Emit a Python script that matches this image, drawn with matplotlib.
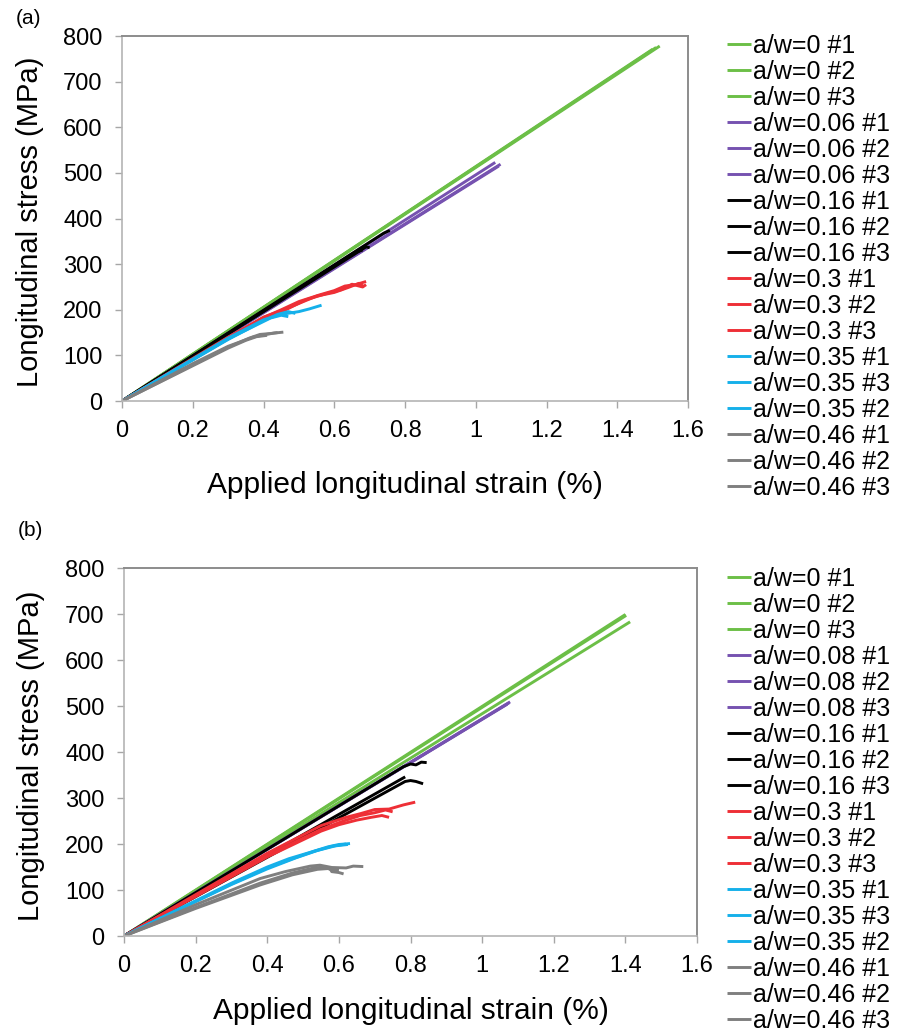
import matplotlib.pyplot as plt

plt.rcParams['font.family'] = ['Liberation Sans', 'DejaVu Sans']

# legend entries, in the order of the original legends
LABELS_A = ["a/w=0 #1", "a/w=0 #2", "a/w=0 #3",
            "a/w=0.06 #1", "a/w=0.06 #2", "a/w=0.06 #3",
            "a/w=0.16 #1", "a/w=0.16 #2", "a/w=0.16 #3",
            "a/w=0.3 #1", "a/w=0.3 #2", "a/w=0.3 #3",
            "a/w=0.35 #1", "a/w=0.35 #3", "a/w=0.35 #2",
            "a/w=0.46 #1", "a/w=0.46 #2", "a/w=0.46 #3"]
LABELS_B = ["a/w=0 #1", "a/w=0 #2", "a/w=0 #3",
            "a/w=0.08 #1", "a/w=0.08 #2", "a/w=0.08 #3",
            "a/w=0.16 #1", "a/w=0.16 #2", "a/w=0.16 #3",
            "a/w=0.3 #1", "a/w=0.3 #2", "a/w=0.3 #3",
            "a/w=0.35 #1", "a/w=0.35 #3", "a/w=0.35 #2",
            "a/w=0.46 #1", "a/w=0.46 #2", "a/w=0.46 #3"]
GROUP_COLORS = ['#6cbf47', '#7652b0', '#000000', '#ee2f36', '#15b0ea', '#7f7f7f']

XTICKS = [0, 0.2, 0.4, 0.6, 0.8, 1.0, 1.2, 1.4, 1.6]
XTICK_LABELS = ["0", "0.2", "0.4", "0.6", "0.8", "1", "1.2", "1.4", "1.6"]
YTICKS = [0, 100, 200, 300, 400, 500, 600, 700, 800]

# ---- panel (a): strain (%) / stress (MPa) ----
A_AW0_X = [[0, 1.50], [0, 1.51], [0, 1.52]]
A_AW0_Y = [[0, 771], [0, 775], [0, 778]]
A_AW006_X = [[0, 1.07], [0, 1.055], [0, 1.065]]
A_AW006_Y = [[0, 519], [0, 523], [0, 515]]
A_AW016_X = [[0, 0.74, 0.757], [0, 0.66, 0.68], [0, 0.69, 0.70]]
A_AW016_Y = [[0, 368, 374], [0, 326, 331], [0, 338, 336]]
A_AW03_X = [[0, 0.3, 0.4, 0.45, 0.5, 0.56, 0.6, 0.63, 0.66, 0.69],
            [0, 0.4, 0.46, 0.52, 0.58, 0.62, 0.65, 0.68, 0.69],
            [0, 0.4, 0.45, 0.5, 0.55, 0.6, 0.64, 0.67, 0.685]]
A_AW03_Y = [[0, 140, 183, 200, 218, 233, 242, 252, 255, 262],
            [0, 182, 199, 222, 236, 244, 256, 250, 255],
            [0, 184, 198, 214, 230, 238, 249, 258, 250]]
A_AW035_X = [[0, 0.3, 0.4, 0.45, 0.5, 0.53, 0.564],
             [0, 0.3, 0.4, 0.44, 0.47, 0.49],
             [0, 0.3, 0.42, 0.45, 0.47]]
A_AW035_Y = [[0, 138, 178, 190, 196, 202, 210],
             [0, 135, 176, 190, 196, 192],
             [0, 136, 182, 188, 185]]
A_AW046_X = [[0, 0.2, 0.3, 0.37, 0.4, 0.43, 0.456],
             [0, 0.3, 0.36, 0.39, 0.42, 0.44],
             [0, 0.3, 0.35, 0.38, 0.41]]
A_AW046_Y = [[0, 82, 120, 140, 145, 149, 151],
             [0, 118, 138, 146, 148, 150],
             [0, 116, 133, 141, 144]]

# ---- panel (b) ----
B_AW0_X = [[0, 1.40], [0, 1.413], [0, 1.402]]
B_AW0_Y = [[0, 699], [0, 683], [0, 697]]
B_AW008_X = [[0, 1.078], [0, 1.075], [0, 1.07]]
B_AW008_Y = [[0, 509], [0, 507], [0, 504]]
B_AW016_X = [[0, 0.78, 0.80, 0.815, 0.83, 0.845],
             [0, 0.785],
             [0, 0.785, 0.80, 0.815, 0.835]]
B_AW016_Y = [[0, 368, 374, 372, 378, 377],
             [0, 346],
             [0, 336, 338, 336, 331]]
B_AW03_X = [[0, 0.4, 0.55, 0.62, 0.66, 0.7, 0.74, 0.78, 0.813],
            [0, 0.4, 0.55, 0.62, 0.66, 0.7, 0.73, 0.75],
            [0, 0.4, 0.55, 0.6, 0.65, 0.69, 0.72, 0.74]]
B_AW03_Y = [[0, 180, 240, 258, 266, 275, 276, 285, 291],
            [0, 175, 232, 252, 262, 268, 274, 270],
            [0, 172, 228, 242, 252, 258, 262, 258]]
B_AW035_X = [[0, 0.3, 0.4, 0.46, 0.52, 0.57, 0.6, 0.631],
             [0, 0.3, 0.4, 0.47, 0.53, 0.58, 0.62],
             [0, 0.3, 0.4, 0.48, 0.54, 0.59, 0.625]]
B_AW035_Y = [[0, 115, 150, 168, 182, 194, 199, 201],
             [0, 113, 148, 168, 184, 195, 200],
             [0, 112, 146, 170, 186, 196, 199]]
B_AW046_X = [[0, 0.2, 0.38, 0.45, 0.52, 0.547, 0.58, 0.62, 0.64, 0.668],
             [0, 0.2, 0.38, 0.47, 0.54, 0.575, 0.58, 0.6, 0.613],
             [0, 0.2, 0.38, 0.47, 0.53, 0.56, 0.575, 0.6]]
B_AW046_Y = [[0, 68, 125, 140, 152, 154, 149, 148, 152, 151],
             [0, 60, 111, 133, 145, 147, 140, 138, 135],
             [0, 62, 115, 137, 148, 150, 145, 143]]

PANEL_A = [(A_AW0_X, A_AW0_Y), (A_AW006_X, A_AW006_Y), (A_AW016_X, A_AW016_Y),
           (A_AW03_X, A_AW03_Y), (A_AW035_X, A_AW035_Y), (A_AW046_X, A_AW046_Y)]
PANEL_B = [(B_AW0_X, B_AW0_Y), (B_AW008_X, B_AW008_Y), (B_AW016_X, B_AW016_Y),
           (B_AW03_X, B_AW03_Y), (B_AW035_X, B_AW035_Y), (B_AW046_X, B_AW046_Y)]


def draw_panel(ax, groups, labels, xlabel_y):
    k = 0
    for color, (xs, ys) in zip(GROUP_COLORS, groups):
        for x, y in zip(xs, ys):
            ax.plot(x, y, color=color, lw=2.1, label=labels[k],
                    solid_capstyle='butt')
            k += 1
    ax.set_xlim(0, 1.6)
    ax.set_ylim(0, 800)
    ax.set_xticks(XTICKS)
    ax.set_xticklabels(XTICK_LABELS)
    ax.set_yticks(YTICKS)
    ax.tick_params(labelsize=17, length=5, width=1, color='#a6a6a6', pad=9)
    for side in ['left', 'bottom']:
        ax.spines[side].set_color('#b4b4b4')
        ax.spines[side].set_linewidth(1.2)
    for side in ['top', 'right']:
        ax.spines[side].set_color('#8c8c8c')
        ax.spines[side].set_linewidth(1.4)
    ax.set_xlabel("Applied longitudinal strain (%)", fontsize=21.5)
    ax.set_ylabel("Longitudinal stress (MPa)", fontsize=21)
    ax.xaxis.set_label_coords(0.5, xlabel_y)
    ax.yaxis.set_label_coords(-0.138, 0.49)


fig = plt.figure(figsize=(9.06, 10.32), dpi=100)
ax_a = fig.add_axes([0.1347, 0.6114, 0.6247, 0.3537])
ax_b = fig.add_axes([0.1369, 0.0930, 0.6325, 0.3566])

draw_panel(ax_a, PANEL_A, LABELS_A, -0.191)
draw_panel(ax_b, PANEL_B, LABELS_B, -0.166)

for ax, top in [(ax_a, 0.9675), (ax_b, 0.4505)]:
    handles, labels = ax.get_legend_handles_labels()
    fig.legend(handles, labels, loc='upper left', bbox_to_anchor=(0.8024, top),
               bbox_transform=fig.transFigure, frameon=False, fontsize=18,
               labelspacing=0.08, handlelength=0.95, handletextpad=0.08,
               borderpad=0, borderaxespad=0)

fig.text(0.031, 0.982, "(a)", fontsize=15, ha='center', va='center')
fig.text(0.034, 0.486, "(b)", fontsize=15, ha='center', va='center')

fig.savefig("out.png", dpi=100)
